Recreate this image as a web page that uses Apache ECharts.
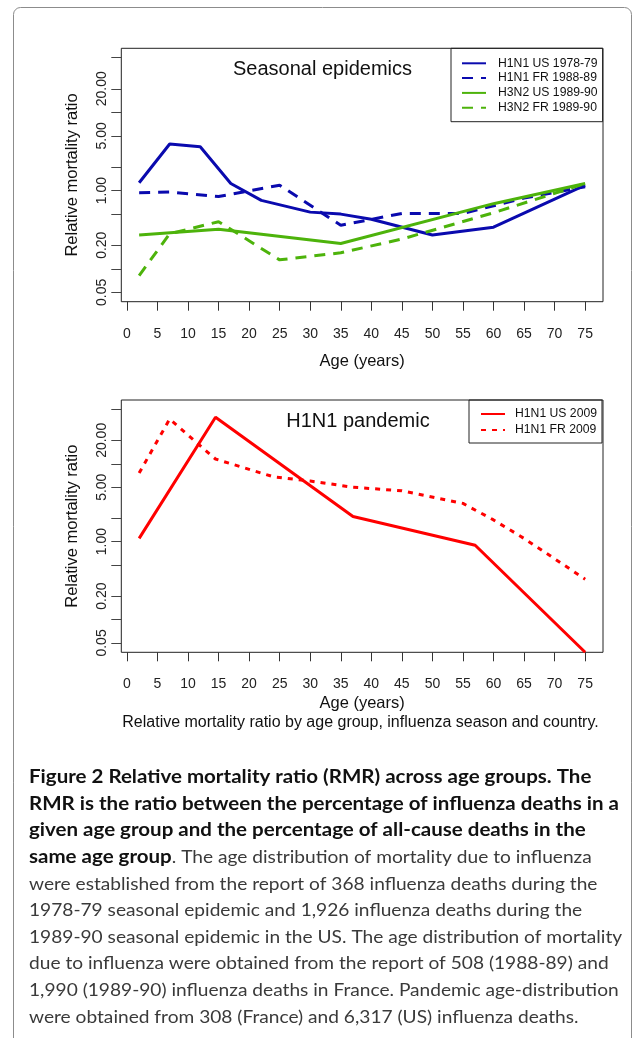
<!DOCTYPE html>
<html>
<head>
<meta charset="UTF-8">
<title>Relative mortality ratio</title>
<script src="https://cdn.jsdelivr.net/npm/echarts@6/dist/echarts.min.js"></script>
<style>
  html, body { margin: 0; padding: 0; background: #fff; }
  #main { width: 633px; height: 1038px; }
</style>
</head>
<body>
<div id="main"></div>
<script type="text/javascript">
    // ages (x) and relative mortality ratios (y)
    var ageTicks = [0, 5, 10, 15, 20, 25, 30, 35, 40, 45, 50, 55, 60, 65, 70, 75];
    var rmrTicks = [0.05, 0.1, 0.2, 0.5, 1, 2, 5, 10, 20, 50];
    var rmrLabels = [0.05, 0.2, 1, 5, 20];

    // seasonal epidemics
    var usH1n1Age = [2, 7, 12, 17, 22, 30, 35, 40, 50, 60, 75];
    var usH1n1Rmr = [1.26, 3.94, 3.64, 1.23, 0.75, 0.53, 0.50, 0.43, 0.27, 0.34, 1.17];
    var frH1n1Age = [2, 7, 15, 25, 35, 45, 55, 65, 75];
    var frH1n1Rmr = [0.94, 0.96, 0.84, 1.17, 0.36, 0.51, 0.51, 0.80, 1.12];
    var usH3n2Age = [2, 15, 35, 60, 75];
    var usH3n2Rmr = [0.27, 0.32, 0.21, 0.68, 1.23];
    var frH3n2Age = [2, 7, 15, 25, 35, 45, 60, 75];
    var frH3n2Rmr = [0.082, 0.28, 0.40, 0.13, 0.16, 0.24, 0.52, 1.23];

    // 2009 pandemic
    var us2009Age = [2, 14.5, 37, 57, 75];
    var us2009Rmr = [1.1, 39.5, 2.1, 0.9, 0.038];
    var fr2009Age = [2, 7, 14.5, 24, 30, 37, 45, 55, 60, 65, 75];
    var fr2009Rmr = [7.6, 37.6, 11.5, 6.8, 6.0, 5.0, 4.5, 3.1, 1.9, 1.1, 0.33];

    var boldLines = [
        'Figure 2 Relative mortality ratio (RMR) across age groups. The',
        'RMR is the ratio between the percentage of influenza deaths in a',
        'given age group and the percentage of all-cause deaths in the'
    ];
    var mixedBold = 'same age group';
    var mixedRest = '. The age distribution of mortality due to influenza';
    var plainLines = [
        'were established from the report of 368 influenza deaths during the',
        '1978-79 seasonal epidemic and 1,926 influenza deaths during the',
        '1989-90 seasonal epidemic in the US. The age distribution of mortality',
        'due to influenza were obtained from the report of 508 (1988-89) and',
        '1,990 (1989-90) influenza deaths in France. Pandemic age-distribution',
        'were obtained from 308 (France) and 6,317 (US) influenza deaths.'
    ];

    var BLUE = '#0a0aae';
    var GREEN = '#4db30b';
    var RED = '#ff0000';
    var FONT = 'Liberation Sans, Arial, sans-serif';
    var BOLD = 'bold 18px Lato, sans-serif';
    var PLAIN = '18px Lato, sans-serif';
    var BOLD_SX = 1.14;
    var PLAIN_SX = 1.063;

    function pairs(ages, vals) {
        return ages.map(function (a, i) { return [a, vals[i]]; });
    }

    function xAxisFor(idx, gap) {
        return {
            type: 'value', gridIndex: idx, min: -0.92, max: 77.92,
            name: 'Age (years)', nameLocation: 'middle', nameGap: gap,
            nameTextStyle: { fontSize: 16.5, color: '#111', fontFamily: FONT },
            axisLine: { show: false, onZero: false },
            axisTick: { length: 9, customValues: ageTicks, lineStyle: { color: '#333' } },
            axisLabel: { customValues: ageTicks, margin: 25, fontSize: 14, color: '#222', fontFamily: FONT },
            splitLine: { show: false }
        };
    }

    function yAxisFor(idx) {
        return {
            type: 'log', logBase: 10, gridIndex: idx, min: 0.03793, max: 65.92,
            name: 'Relative mortality ratio', nameLocation: 'middle', nameGap: 40,
            nameTextStyle: { fontSize: 16.5, color: '#111', fontFamily: FONT },
            axisLine: { show: false, onZero: false },
            axisTick: { length: 10, customValues: rmrTicks, lineStyle: { color: '#444' } },
            axisLabel: {
                customValues: rmrLabels, rotate: 90, margin: 12, fontSize: 14, color: '#222', fontFamily: FONT,
                formatter: function (v) { return Number(v).toFixed(2); }
            },
            splitLine: { show: false }
        };
    }

    function lineSeries(name, idx, data, color, dash) {
        return {
            name: name, type: 'line', xAxisIndex: idx, yAxisIndex: idx,
            data: data, symbol: 'none', silent: true, animation: false,
            lineStyle: { color: color, width: 3, type: dash || 'solid' },
            itemStyle: { color: color }
        };
    }

    function legendFor(names, left, top, pad, gap, textPad) {
        return {
            data: names, orient: 'vertical', left: left, top: top,
            padding: pad, itemWidth: 24, itemHeight: 12, itemGap: gap,
            borderColor: '#222', borderWidth: 1, borderRadius: 0,
            selectedMode: false,
            itemStyle: { opacity: 0 },
            lineStyle: { width: 2 },
            textStyle: { fontSize: 12.2, color: '#111', fontFamily: FONT, padding: [0, 0, 0, textPad] }
        };
    }

    function textLine(t, x, y, font, fill, sx) {
        return { type: 'text', x: x, y: y, scaleX: sx, silent: true,
                 style: { text: t, font: font, fill: fill, verticalAlign: 'middle' } };
    }

    var myChart = echarts.init(document.getElementById('main'), null, { renderer: 'canvas' });

    var ctx = document.createElement('canvas').getContext('2d');
    ctx.font = BOLD;
    var mixedBoldWidth = ctx.measureText(mixedBold).width * BOLD_SX;

    var graphics = [
        { type: 'rect', shape: { x: 13.5, y: 7.5, width: 618, height: 1100, r: 7 },
          style: { fill: 'none', stroke: '#8c8c8c', lineWidth: 1 }, silent: true },
        { type: 'text', x: 322.5, y: 69.5,
          style: { text: 'Seasonal epidemics', font: '20px ' + FONT, fill: '#111', align: 'center', verticalAlign: 'middle' } },
        { type: 'text', x: 358, y: 421,
          style: { text: 'H1N1 pandemic', font: '20px ' + FONT, fill: '#111', align: 'center', verticalAlign: 'middle' } },
        { type: 'text', x: 360.5, y: 722.5,
          style: { text: 'Relative mortality ratio by age group, influenza season and country.', font: '16px ' + FONT,
                   fill: '#111', align: 'center', verticalAlign: 'middle' } }
    ];
    boldLines.forEach(function (t, i) {
        graphics.push(textLine(t, 29, 777.3 + i * 26.6, BOLD, '#111', BOLD_SX));
    });
    graphics.push(textLine(mixedBold, 29, 857.1, BOLD, '#111', BOLD_SX));
    graphics.push(textLine(mixedRest, 29 + mixedBoldWidth, 857.1, PLAIN, '#3a3a3a', PLAIN_SX));
    plainLines.forEach(function (t, i) {
        graphics.push(textLine(t, 29, 883.7 + i * 26.6, PLAIN, '#3a3a3a', PLAIN_SX));
    });

    var option = {
        animation: false,
        backgroundColor: '#fff',
        grid: [
            { left: 121.3, top: 48.3, width: 481.7, height: 253.4, show: true, borderColor: '#222', borderWidth: 1,
              backgroundColor: 'transparent', outerBoundsMode: 'none' },
            { left: 121.3, top: 400, width: 481.7, height: 252.3, show: true, borderColor: '#222', borderWidth: 1,
              backgroundColor: 'transparent', outerBoundsMode: 'none' }
        ],
        xAxis: [xAxisFor(0, 51), xAxisFor(1, 43)],
        yAxis: [yAxisFor(0), yAxisFor(1)],
        legend: [
            legendFor(['H1N1 US 1978-79', 'H1N1 FR 1988-89', 'H3N2 US 1989-90', 'H3N2 FR 1989-90'], 451, 48.3, [9, 5, 8, 10], 2.8, 7),
            legendFor(['H1N1 US 2009', 'H1N1 FR 2009'], 469, 400, [8, 5, 7, 11], 4, 5)
        ],
        series: [
            lineSeries('H1N1 US 1978-79', 0, pairs(usH1n1Age, usH1n1Rmr), BLUE),
            lineSeries('H1N1 FR 1988-89', 0, pairs(frH1n1Age, frH1n1Rmr), BLUE, [11, 8]),
            lineSeries('H3N2 US 1989-90', 0, pairs(usH3n2Age, usH3n2Rmr), GREEN),
            lineSeries('H3N2 FR 1989-90', 0, pairs(frH3n2Age, frH3n2Rmr), GREEN, [11, 8]),
            lineSeries('H1N1 US 2009', 1, pairs(us2009Age, us2009Rmr), RED),
            lineSeries('H1N1 FR 2009', 1, pairs(fr2009Age, fr2009Rmr), RED, [5, 6])
        ],
        graphic: graphics
    };

    myChart.setOption(option);
</script>
</body>
</html>
